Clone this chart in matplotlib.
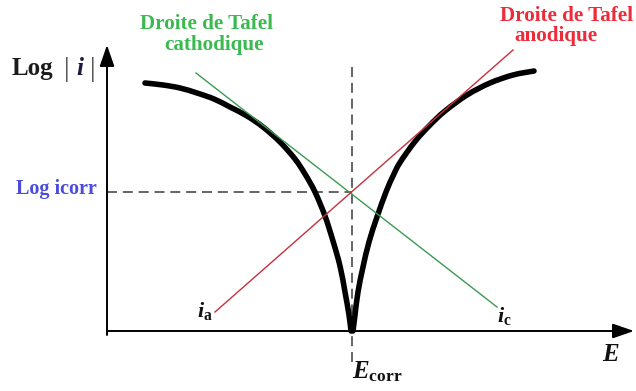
import matplotlib
matplotlib.use("Agg")
import matplotlib.pyplot as plt
from matplotlib.path import Path
from matplotlib.patches import PathPatch

plt.rcParams["mathtext.fontset"] = "custom"
plt.rcParams["mathtext.rm"] = "Liberation Serif:bold"
plt.rcParams["mathtext.bf"] = "Liberation Serif:bold"
plt.rcParams["mathtext.it"] = "Liberation Serif:italic:bold"

SERIF = "Liberation Serif"

# Polarisation curve log|i| versus potential E (arbitrary units)
E_cath = [0.76, 1.12, 1.46, 1.80, 2.14, 2.46, 2.80, 3.12, 3.46, 3.76, 3.96,
          4.16, 4.36, 4.52, 4.66, 4.76, 4.84, 4.88]
L_cath = [4.96, 4.92, 4.86, 4.76, 4.64, 4.48, 4.30, 4.08, 3.78, 3.44, 3.14,
          2.78, 2.30, 1.80, 1.30, 0.78, 0.32, 0.00]
E_anod = [4.92, 4.96, 5.02, 5.12, 5.24, 5.40, 5.58, 5.72, 5.86, 6.16, 6.46,
          6.76, 7.20, 7.66, 8.12, 8.54]
L_anod = [0.00, 0.32, 0.78, 1.28, 1.78, 2.28, 2.78, 3.10, 3.37, 3.79, 4.12,
          4.40, 4.72, 4.96, 5.12, 5.20]

# Tafel straight lines (end points)
E_tafel_c = [1.78, 7.80]
L_tafel_c = [5.16, 0.48]
E_tafel_a = [2.16, 8.12]
L_tafel_a = [0.38, 5.62]

# Corrosion point
E_corr = 4.90
log_icorr = 2.78

# Axis extents
E_axis_end = 10.54
L_axis_end = 5.72
L_axis_start = -0.08


def smooth_path(xs, ys):
    """Catmull-Rom curve through the samples, expressed as cubic Bezier segments."""
    pts = list(zip(xs, ys))
    ext = [pts[0]] + pts + [pts[-1]]
    verts = [pts[0]]
    codes = [Path.MOVETO]
    for i in range(1, len(ext) - 2):
        p0, p1, p2, p3 = ext[i - 1], ext[i], ext[i + 1], ext[i + 2]
        c1 = (p1[0] + (p2[0] - p0[0]) / 6, p1[1] + (p2[1] - p0[1]) / 6)
        c2 = (p2[0] - (p3[0] - p1[0]) / 6, p2[1] - (p3[1] - p1[1]) / 6)
        verts += [c1, c2, p2]
        codes += [Path.CURVE4] * 3
    return Path(verts, codes)


fig = plt.figure(figsize=(6.36, 3.91), dpi=100)
ax = fig.add_axes([0, 0, 1, 1])
ax.set_xlim(-2.14, 10.58)
ax.set_ylim(-1.20, 6.62)
ax.axis("off")

arrow_kw = dict(arrowstyle="-|>,head_length=1.3,head_width=0.45",
                color="black", lw=1.4, mutation_scale=10,
                shrinkA=0, shrinkB=0)
ax.annotate("", xy=(E_axis_end, 0), xytext=(0, 0), arrowprops=arrow_kw)
ax.annotate("", xy=(0, L_axis_end), xytext=(0, L_axis_start), arrowprops=arrow_kw)

# Dashed guides at the corrosion point
dash_kw = dict(color="#4a4a4a", lw=1.2, dashes=(6, 3.5))
ax.plot([E_corr, E_corr], [-0.62, 5.32], **dash_kw)
ax.plot([0, E_corr], [log_icorr, log_icorr], **dash_kw)

# Polarisation curve (two branches meeting at E_corr)
for xs, ys in ((E_cath, L_cath), (E_anod, L_anod)):
    ax.add_patch(PathPatch(smooth_path(xs, ys), facecolor="none", edgecolor="black",
                           lw=4.0, capstyle="round", joinstyle="round", zorder=2))

# Tafel lines, drawn over the curve
ax.plot(E_tafel_c, L_tafel_c, color="#3a9a52", lw=1.0, zorder=3)
ax.plot(E_tafel_a, L_tafel_a, color="#c8303c", lw=1.0, zorder=3)

# Axis titles
ax.text(-1.90, 5.12, "Log", fontfamily=SERIF, fontweight="bold", fontsize=18,
        color="#1b1b1b", ha="left", va="baseline")
ax.text(-0.80, 5.10, "|", fontfamily=SERIF, fontsize=20, color="#444444",
        ha="center", va="baseline")
ax.text(-0.54, 5.12, "i", fontfamily=SERIF, fontweight="bold", fontstyle="italic",
        fontsize=18, color="#1a1a40", ha="center", va="baseline")
ax.text(-0.28, 5.10, "|", fontfamily=SERIF, fontsize=20, color="#444444",
        ha="center", va="baseline")

ax.text(9.90, -0.60, r"$E$", fontsize=18, color="#111111", ha="left", va="baseline")
ax.text(E_corr, -0.94, r"$E_{\mathrm{corr}}$", fontsize=18, color="#111111",
        ha="left", va="baseline")

ax.text(-1.82, 2.74, "Log icorr", fontfamily=SERIF, fontweight="bold", fontsize=14.5,
        color="#4b4bdc", ha="left", va="baseline")

# Tafel line labels
green_txt = "#3cb950"
red_txt = "#ee2b3b"
ax.text(2.00, 6.04, "Droite de Tafel", fontfamily=SERIF, fontweight="bold",
        fontsize=15.2, color=green_txt, ha="center", va="baseline")
ax.text(2.14, 5.62, "cathodique", fontfamily=SERIF, fontweight="bold",
        fontsize=15.2, color=green_txt, ha="center", va="baseline")
ax.text(9.20, 6.20, "Droite de Tafel", fontfamily=SERIF, fontweight="bold",
        fontsize=15.2, color=red_txt, ha="center", va="baseline")
ax.text(8.98, 5.79, "anodique", fontfamily=SERIF, fontweight="bold",
        fontsize=15.2, color=red_txt, ha="center", va="baseline")

ax.text(1.80, 0.28, r"$i_{\mathrm{a}}$", fontsize=16, color="#111111",
        ha="left", va="baseline")
ax.text(7.80, 0.18, r"$i_{\mathrm{c}}$", fontsize=16, color="#111111",
        ha="left", va="baseline")

fig.savefig("out.png", dpi=100)
